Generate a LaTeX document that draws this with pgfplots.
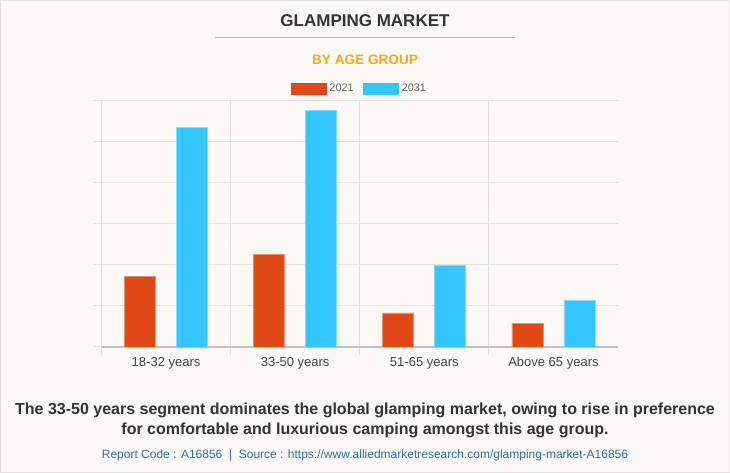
\documentclass[border=0pt]{standalone}
\usepackage{pgfplots}
\pgfplotsset{compat=1.18}
\usepackage{fontspec}
\setmainfont{Liberation Sans}
\definecolor{bg}{RGB}{250,249,245}
\definecolor{gridc}{RGB}{226,225,221}
\definecolor{axisc}{RGB}{192,192,192}
\definecolor{redbar}{RGB}{224,73,22}
\definecolor{bluebar}{RGB}{51,198,255}
\definecolor{titlec}{RGB}{51,51,51}
\definecolor{orangec}{RGB}{255,166,33}
\definecolor{srcc}{RGB}{45,110,185}
\definecolor{labc}{RGB}{68,68,68}
\definecolor{legc}{RGB}{102,102,102}
\begin{document}
\begin{tikzpicture}
\begin{scope}[x=0.75pt,y=0.75pt]
\fill[bg] (0,0) rectangle (730,473);
\draw[gridc, line width=0.75pt] (0.5,0.5) rectangle (729.5,472.5);
\node[font=\fontsize{12.75pt}{15pt}\selectfont\bfseries, text=titlec] at (365,452) {GLAMPING MARKET};
\draw[axisc, line width=0.75pt] (215,435.5) -- (515,435.5);
\node[font=\fontsize{10.2pt}{12pt}\selectfont\bfseries, text=orangec] at (365,413.5) {BY AGE GROUP};
\node[font=\fontsize{12pt}{15pt}\selectfont\bfseries, text=titlec, align=center] at (365,53) {The 33-50 years segment dominates the global glamping market, owing to rise in preference\\for comfortable and luxurious camping amongst this age group.};
\node[font=\fontsize{9pt}{11pt}\selectfont, text=srcc] at (365,17.5) {Report Code : A16856 \ | \ Source : https://www.alliedmarketresearch.com/glamping-market-A16856};
\end{scope}
\begin{axis}[
  at={(76.125pt,94.5pt)}, anchor=south west,
  scale only axis, width=387.375pt, height=184.5pt,
  xmin=-0.5, xmax=3.5, ymin=0, ymax=6,
  ybar=15.75pt, bar width=23.25pt,
  axis x line*=bottom, axis y line*=left,
  axis line style={-},
  x axis line style={draw=axisc, line width=0.9pt},
  y axis line style={draw=gridc, line width=0.75pt},
  xtick={-0.5,0.5,1.5,2.5}, xticklabels={}, xmajorgrids,
  extra x ticks={0,1,2,3},
  extra x tick labels={18-32 years,33-50 years,51-65 years,Above 65 years},
  extra x tick style={grid=none, major tick length=0pt, tick style={draw=none}},
  ytick={0,1,2,3,4,5,6}, yticklabels={}, ymajorgrids,
  tick align=outside, major tick length=6pt,
  grid style={gridc, line width=0.75pt},
  tick style={gridc, line width=0.75pt},
  xticklabel style={font=\fontsize{9.75pt}{11pt}\selectfont, text=labc, yshift=-4.25pt},
  legend columns=2,
  legend style={at={(0.5,1)}, anchor=south, yshift=1.5pt, draw=none, fill=none,
    font=\fontsize{8.2pt}{9pt}\selectfont, text=legc,
    /tikz/every even column/.append style={column sep=5pt}},
  legend image code/.code={\fill[#1, draw=none] (0pt,-4.5pt) rectangle (27pt,4.5pt);},
]
\addplot[fill=redbar, draw=redbar!60!white, line width=0.5pt] coordinates {(0,1.72) (1,2.26) (2,0.83) (3,0.585)};
\addplot[fill=bluebar, draw=bluebar!60!white, line width=0.5pt] coordinates {(0,5.36) (1,5.77) (2,1.99) (3,1.15)};
\legend{2021,2031}
\end{axis}
\end{tikzpicture}
\end{document}
